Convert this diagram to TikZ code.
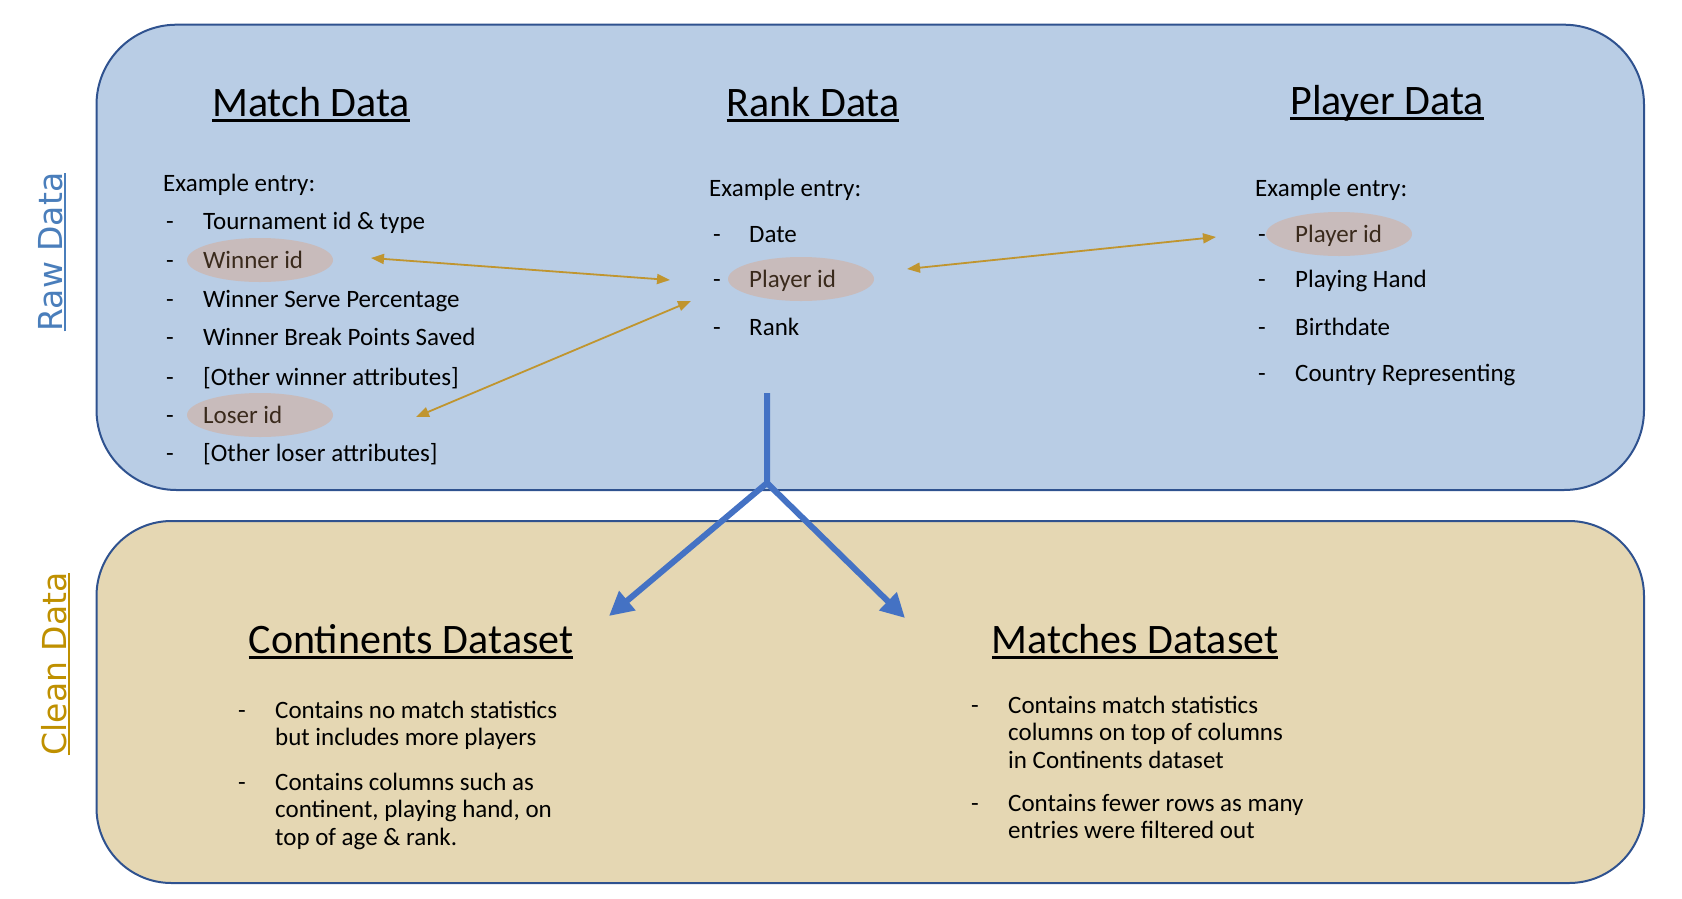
\documentclass[tikz,border=0pt]{standalone}
\usepackage{fontspec}
\setmainfont{Carlito}
\newfontfamily\sidefont{DejaVu Sans}
\usetikzlibrary{arrows.meta,shapes.geometric}
\definecolor{rawfill}{HTML}{B9CDE5}
\definecolor{cleanfill}{HTML}{E5D7B3}
\definecolor{boxline}{HTML}{2F528F}
\definecolor{idfill}{HTML}{C8BBBB}
\definecolor{idtext}{HTML}{3A2A1C}
\definecolor{linkgold}{HTML}{C0952F}
\definecolor{flowblue}{HTML}{4472C4}
\definecolor{rawblue}{HTML}{4A7EBB}
\definecolor{cleangold}{HTML}{BF9000}
\newcommand{\undl}[3]{\setbox0\hbox{#3}\rlap{\rule[-#1]{\wd0}{#2}}\box0}
\tikzset{
  rawbox/.style={draw=boxline, line width=2pt, fill=rawfill, rounded corners=80pt},
  cleanbox/.style={draw=boxline, line width=2pt, fill=cleanfill, rounded corners=75pt},
  title/.style={font=\fontsize{42}{50}\selectfont, anchor=base, inner sep=0pt},
  entry/.style={font=\fontsize{25}{27.5}\selectfont, anchor=base west, inner sep=0pt},
  idmark/.style={ellipse, fill=idfill, minimum width=146pt, minimum height=44pt, inner sep=0pt},
  link/.style={draw=linkgold, line width=1.8pt, {Triangle[length=13pt,width=10pt]}-{Triangle[length=13pt,width=10pt]}},
  flow/.style={draw=flowblue, line width=6pt, -{Triangle[length=24pt,width=24pt]}},
  side/.style={font=\sidefont\fontsize{33}{40}\selectfont, rotate=90, anchor=base, inner sep=0pt}
}
\begin{document}
\begin{tikzpicture}[x=1pt,y=1pt,yscale=-1]
\useasboundingbox (0,0) rectangle (1682,898);
\draw[rawbox] (96.5,24.7) rectangle (1644,490);
\draw[cleanbox] (96.5,521) rectangle (1644,883);
\node[side, text=rawblue] (raw) at (62,252) {\undl{4pt}{2pt}{Raw Data}};
\node[side, text=cleangold] (clean) at (66,664) {\undl{4pt}{2pt}{Clean Data}};
\node[title] (match) at (311,116) {\undl{6pt}{3.2pt}{Match Data}};
\node[title] (rank) at (813,116) {\undl{6pt}{3.2pt}{Rank Data}};
\node[title] (player) at (1387,114) {\undl{6pt}{3.2pt}{Player Data}};
\node[idmark] (winner) at (260,260) {};
\node[idmark] (loser) at (260,415) {};
\node[idmark] (rankid) at (801,279) {};
\node[idmark] (playerid) at (1339,234) {};
\node[entry] (mex) at (163,191) {Example entry:};
\foreach \y/\t [count=\i] in {229/Tournament id \& type, 268/\textcolor{idtext}{Winner id}, 307/Winner Serve Percentage, 345/Winner Break Points Saved, 385/{[Other winner attributes]}, 423/\textcolor{idtext}{Loser id}, 461/{[Other loser attributes]}}{
  \node[entry] (mdash\i) at (166,\y) {-};
  \node[entry] (mitem\i) at (203,\y) {\t};
}
\node[entry] (rex) at (709,196) {Example entry:};
\foreach \y/\t [count=\i] in {242/Date, 287/\textcolor{idtext}{Player id}, 335/Rank}{
  \node[entry] (rdash\i) at (713,\y) {-};
  \node[entry] (ritem\i) at (749,\y) {\t};
}
\node[entry] (pex) at (1255,196) {Example entry:};
\foreach \y/\t [count=\i] in {242/\textcolor{idtext}{Player id}, 287/Playing Hand, 335/Birthdate, 381/Country Representing}{
  \node[entry] (pdash\i) at (1258,\y) {-};
  \node[entry] (pitem\i) at (1295,\y) {\t};
}
\coordinate (winA) at (371,258);
\coordinate (rankA) at (670,280);
\coordinate (loseA) at (416,417);
\coordinate (rankB) at (691,301);
\coordinate (rankC) at (907,269);
\coordinate (playA) at (1216,237);
\draw[link] (winA) -- (rankA);
\draw[link] (loseA) -- (rankB);
\draw[link] (rankC) -- (playA);
\coordinate (stem) at (767,393);
\coordinate (fork) at (767,483);
\coordinate (contIn) at (609,616);
\coordinate (matchIn) at (905,618);
\draw[flow] (stem) -- (fork) -- (contIn);
\draw[flow] (fork) -- (matchIn);
\node[title] (cont) at (411,653) {\undl{6pt}{3.2pt}{Continents Dataset}};
\node[title] (matches) at (1135,653) {\undl{6pt}{3.2pt}{Matches Dataset}};
\node[entry] (cdash1) at (238,718) {-};
\node[entry] (ctext1) at (275,718) {\vtop{\hbox{Contains no match statistics}\hbox{but includes more players}}};
\node[entry] (cdash2) at (238,790) {-};
\node[entry] (ctext2) at (275,790) {\vtop{\hbox{Contains columns such as}\hbox{continent, playing hand, on}\hbox{top of age \& rank.}}};
\node[entry] (sdash1) at (971,713) {-};
\node[entry] (stext1) at (1008,713) {\vtop{\hbox{Contains match statistics}\hbox{columns on top of columns}\hbox{in Continents dataset}}};
\node[entry] (sdash2) at (971,811) {-};
\node[entry] (stext2) at (1008,811) {\vtop{\hbox{Contains fewer rows as many}\hbox{entries were filtered out}}};
\end{tikzpicture}
\end{document}
